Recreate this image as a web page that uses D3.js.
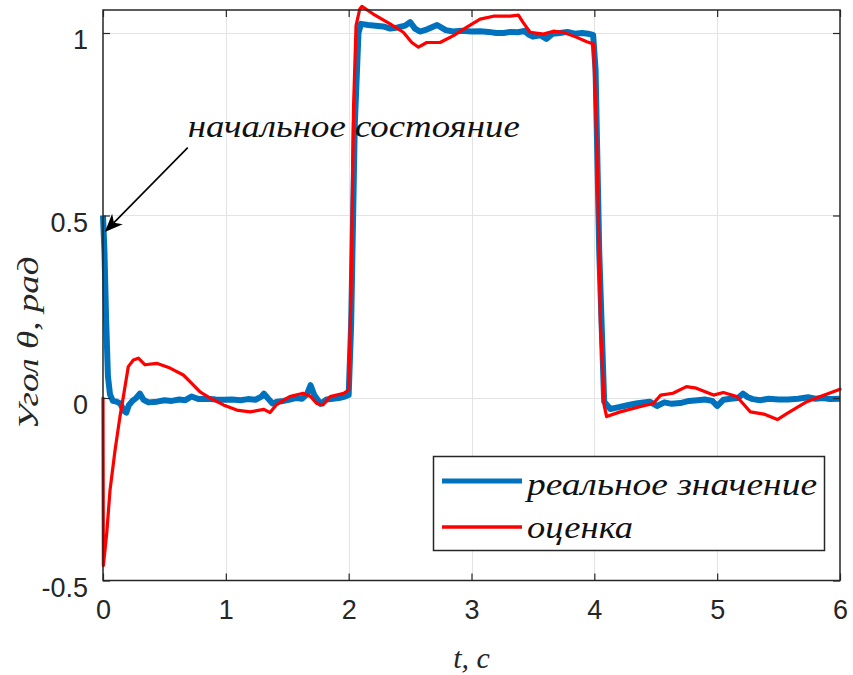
<!DOCTYPE html>
<html>
<head>
<meta charset="utf-8">
<script src="https://cdn.jsdelivr.net/npm/d3@7"></script>
<style>
  body { margin: 0; background: #fff; }
  svg { display: block; }
</style>
</head>
<body>
<svg id="chart" width="853" height="675"></svg>
<script>
// Axis ticks
const xTicks = [0, 1, 2, 3, 4, 5, 6];
const xTickLabels = ["0", "1", "2", "3", "4", "5", "6"];
const yTicks = [-0.5, 0, 0.5, 1];
const yTickLabels = ["-0.5", "0", "0.5", "1"];

// Series names
const seriesNames = ["реальное значение", "оценка"];

// Real angle: time (s) and value (rad)
const realT = [
  0, 0.012, 0.025, 0.04, 0.057, 0.08, 0.11, 0.14, 0.17, 0.19,
  0.21, 0.24, 0.27, 0.3, 0.33, 0.37, 0.44, 0.5, 0.56, 0.62,
  0.67, 0.72, 0.78, 0.85, 0.92, 0.98, 1.05, 1.12, 1.18, 1.24,
  1.29, 1.31, 1.34, 1.38, 1.42, 1.47, 1.52, 1.57, 1.62, 1.66,
  1.69, 1.72, 1.77, 1.82, 1.87, 1.92, 1.97, 2.0, 2.02, 2.05,
  2.08, 2.1, 2.16, 2.22, 2.28, 2.34, 2.4, 2.46, 2.5, 2.54,
  2.58, 2.64, 2.72, 2.79, 2.85, 2.92, 3.0, 3.07, 3.14, 3.2,
  3.26, 3.32, 3.38, 3.43, 3.47, 3.5, 3.56, 3.61, 3.66, 3.72,
  3.78, 3.84, 3.9, 3.95, 3.99, 4.01, 4.04, 4.08, 4.13, 4.2,
  4.27, 4.34, 4.4, 4.45, 4.51, 4.57, 4.63, 4.7, 4.77, 4.84,
  4.9, 4.96, 5.0, 5.05, 5.11, 5.17, 5.21, 5.25, 5.29, 5.35,
  5.42, 5.5, 5.58, 5.66, 5.74, 5.8, 5.86, 5.92, 6.0
];
const realV = [
  0.5, 0.40, 0.22, 0.06, 0.01, -0.008, -0.01, -0.015, -0.035, -0.04,
  -0.02, -0.008, 0.0, 0.012, -0.005, -0.012, -0.01, -0.006, -0.008, -0.004,
  -0.006, 0.004, -0.003, -0.002, -0.004, -0.005, -0.004, -0.006, -0.003, -0.005,
  0.004, 0.012, 0.0, -0.015, -0.01, -0.008, -0.004, 0.0, -0.002, 0.01,
  0.035, 0.008, -0.016, -0.004, -0.002, 0.0, 0.004, 0.008, 0.2, 0.75,
  1.0, 1.025, 1.022, 1.02, 1.018, 1.012, 1.015, 1.02, 1.03, 1.012,
  1.004, 1.01, 1.022, 1.008, 1.004, 1.006, 1.004, 1.005, 1.003, 1.0,
  1.0, 1.003, 1.002, 1.006, 0.995, 0.99, 0.994, 0.984, 0.998, 1.0,
  1.003, 0.998, 1.0, 0.998, 0.995, 0.9, 0.4, -0.01, -0.03, -0.025,
  -0.02, -0.015, -0.012, -0.01, -0.022, -0.012, -0.016, -0.014, -0.008, -0.006,
  -0.004, -0.008, -0.022, -0.005, -0.002, 0.0, 0.012, 0.002, -0.003, -0.006,
  -0.002, -0.004, -0.004, -0.002, 0.002, -0.002, 0.0, -0.003, -0.002
];

// Estimated angle: time (s) and value (rad)
const estT = [
  0, 0.003, 0.03, 0.057, 0.098, 0.138, 0.166, 0.206, 0.247, 0.288,
  0.342, 0.437, 0.546, 0.654, 0.708, 0.79, 0.871, 0.98, 1.089, 1.197,
  1.31, 1.36, 1.41, 1.52, 1.63, 1.69, 1.74, 1.79, 1.85, 1.96,
  2.0, 2.02, 2.04, 2.06, 2.09, 2.107, 2.2, 2.337, 2.445, 2.514,
  2.568, 2.636, 2.744, 2.853, 2.962, 3.07, 3.178, 3.314, 3.382, 3.42,
  3.477, 3.585, 3.667, 3.748, 3.857, 3.939, 3.993, 4.02, 4.05, 4.08,
  4.10, 4.21, 4.37, 4.48, 4.54, 4.64, 4.75, 4.83, 4.97, 5.05,
  5.16, 5.21, 5.27, 5.38, 5.49, 5.57, 5.73, 5.84, 6.0
];
const estV = [
  0, -0.459, -0.372, -0.253, -0.143, -0.051, 0.004, 0.086, 0.104, 0.109,
  0.091, 0.095, 0.082, 0.063, 0.045, 0.017, 0.0, -0.019, -0.033, -0.038,
  -0.031, -0.040, -0.019, 0.004, 0.013, 0.004, -0.015, -0.019, 0.004, 0.013,
  0.022, 0.3, 0.8, 1.02, 1.065, 1.073, 1.052, 1.025, 1.002, 0.974,
  0.961, 0.974, 0.974, 0.993, 1.016, 1.038, 1.046, 1.046, 1.049, 1.029,
  1.002, 0.997, 1.005, 1.002, 0.988, 0.976, 0.970, 0.7, 0.2, -0.02,
  -0.051, -0.038, -0.024, -0.015, 0.008, 0.013, 0.031, 0.027, 0.008, 0.015,
  0.004, -0.015, -0.038, -0.044, -0.059, -0.042, -0.01, 0.004, 0.024
];

const realPts = realT.map((t, i) => [t, realV[i]]);
const estPts = estT.map((t, i) => [t, estV[i]]);

const svg = d3.select("#chart");
const plotLeft = 103, plotRight = 840, plotTop = 10, plotBottom = 580.5;

const x = d3.scaleLinear().domain([0, 6]).range([plotLeft, plotRight]);
const y = d3.scaleLinear().domain([-0.5, 1.063]).range([plotBottom, plotTop]);

const axisColor = "#262626";
const sansFont = "'Liberation Sans', Arial, sans-serif";
const serifFont = "'Liberation Serif', 'Times New Roman', serif";

svg.append("rect").attr("width", 853).attr("height", 675).attr("fill", "#fff");

// Grid
const grid = svg.append("g").attr("stroke", "#e3e3e3").attr("stroke-width", 1);
grid.selectAll("line.gx").data(xTicks.slice(1, -1)).join("line")
  .attr("x1", d => Math.round(x(d)) + 0.5).attr("x2", d => Math.round(x(d)) + 0.5)
  .attr("y1", plotTop).attr("y2", plotBottom);
grid.selectAll("line.gy").data(yTicks.slice(1)).join("line")
  .attr("y1", d => Math.round(y(d)) + 0.5).attr("y2", d => Math.round(y(d)) + 0.5)
  .attr("x1", plotLeft).attr("x2", plotRight);

// Series
const line = d3.line().x(d => x(d[0])).y(d => y(d[1]));
svg.append("path").datum(realPts)
  .attr("d", line).attr("fill", "none")
  .attr("stroke", "#0072BD").attr("stroke-width", 6)
  .attr("stroke-linejoin", "round").attr("stroke-linecap", "butt");
svg.append("path").datum(estPts)
  .attr("d", line).attr("fill", "none")
  .attr("stroke", "#FF0000").attr("stroke-width", 3.2)
  .attr("stroke-linejoin", "round").attr("stroke-linecap", "round");

// Axes: bottom/top and left/right with inward ticks
const tickLen = 7;
const xAxisB = d3.axisBottom(x).tickValues(xTicks).tickSizeInner(-tickLen).tickSizeOuter(0)
  .tickFormat((d, i) => xTickLabels[i]).tickPadding(tickLen + 12);
const gxB = svg.append("g").attr("transform", `translate(0,${plotBottom})`).call(xAxisB);
const xAxisT = d3.axisTop(x).tickValues(xTicks).tickSizeInner(-tickLen).tickSizeOuter(0).tickFormat("");
const gxT = svg.append("g").attr("transform", `translate(0,${plotTop})`).call(xAxisT);
const yAxisL = d3.axisLeft(y).tickValues(yTicks).tickSizeInner(-tickLen).tickSizeOuter(0)
  .tickFormat((d, i) => yTickLabels[i]).tickPadding(tickLen + 8);
const gyL = svg.append("g").attr("transform", `translate(${plotLeft},0)`).call(yAxisL);
const yAxisR = d3.axisRight(y).tickValues(yTicks).tickSizeInner(-tickLen).tickSizeOuter(0).tickFormat("");
const gyR = svg.append("g").attr("transform", `translate(${plotRight},0)`).call(yAxisR);

[gxB, gxT, gyL, gyR].forEach(g => {
  g.select(".domain").remove();
  g.selectAll(".tick line").attr("stroke", axisColor).attr("stroke-width", 1.2);
  g.selectAll("text").attr("fill", axisColor).attr("font-family", sansFont).attr("font-size", 27);
});
gxB.selectAll("text").attr("dy", "0.71em");
gyL.selectAll("text").attr("dy", "0.58em");

// Plot box
svg.append("rect").attr("x", plotLeft).attr("y", plotTop)
  .attr("width", plotRight - plotLeft).attr("height", plotBottom - plotTop)
  .attr("fill", "none").attr("stroke", axisColor).attr("stroke-width", 1.5);

// Axis titles
svg.append("text").attr("x", (plotLeft + plotRight) / 2).attr("y", 668)
  .attr("text-anchor", "middle").attr("font-family", serifFont).attr("font-style", "italic")
  .attr("font-size", 30).attr("fill", axisColor)
  .text("t, c");
svg.append("text").attr("transform", "translate(38,343) rotate(-90)")
  .attr("text-anchor", "middle").attr("font-family", serifFont).attr("font-style", "italic")
  .attr("font-size", 30).attr("fill", axisColor)
  .attr("textLength", 173).attr("lengthAdjust", "spacingAndGlyphs")
  .text("Угол θ, рад");

// Initial state annotation with arrow
const arrowFrom = [0.69, 0.686];
const arrowTo = [0.015, 0.455];
const ax1 = x(arrowFrom[0]), ay1 = y(arrowFrom[1]);
const ax2 = x(arrowTo[0]), ay2 = y(arrowTo[1]);
const dx = ax2 - ax1, dy = ay2 - ay1, len = Math.hypot(dx, dy);
const ux = dx / len, uy = dy / len, px = -uy, py = ux;
const headL = 18, headW = 7.5, notch = 5;
svg.append("line").attr("x1", ax1).attr("y1", ay1)
  .attr("x2", ax2 - ux * (headL - notch)).attr("y2", ay2 - uy * (headL - notch))
  .attr("stroke", "#000").attr("stroke-width", 1.6);
svg.append("path")
  .attr("d", `M${ax2},${ay2}
    L${ax2 - ux * headL + px * headW},${ay2 - uy * headL + py * headW}
    L${ax2 - ux * (headL - notch)},${ay2 - uy * (headL - notch)}
    L${ax2 - ux * headL - px * headW},${ay2 - uy * headL - py * headW}Z`)
  .attr("fill", "#000");
svg.append("text").attr("x", x(0.69)).attr("y", y(0.714))
  .attr("font-family", serifFont).attr("font-style", "italic")
  .attr("font-size", 31).attr("fill", "#111")
  .attr("textLength", 332).attr("lengthAdjust", "spacingAndGlyphs")
  .text("начальное состояние");

// Legend
const legend = svg.append("g");
legend.append("rect").attr("x", 433.5).attr("y", 456.5).attr("width", 391).attr("height", 94)
  .attr("fill", "#fff").attr("stroke", axisColor).attr("stroke-width", 1.5);
const legendItems = [
  { name: seriesNames[0], color: "#0072BD", width: 5, ly: 481, ty: 495, tl: 290 },
  { name: seriesNames[1], color: "#FF0000", width: 3.5, ly: 527, ty: 538, tl: 106 }
];
legendItems.forEach(it => {
  legend.append("line").attr("x1", 442).attr("x2", 522).attr("y1", it.ly).attr("y2", it.ly)
    .attr("stroke", it.color).attr("stroke-width", it.width);
  legend.append("text").attr("x", 527).attr("y", it.ty)
    .attr("font-family", serifFont).attr("font-style", "italic")
    .attr("font-size", 32).attr("fill", "#111")
    .attr("textLength", it.tl).attr("lengthAdjust", "spacingAndGlyphs")
    .text(it.name);
});
</script>
</body>
</html>
